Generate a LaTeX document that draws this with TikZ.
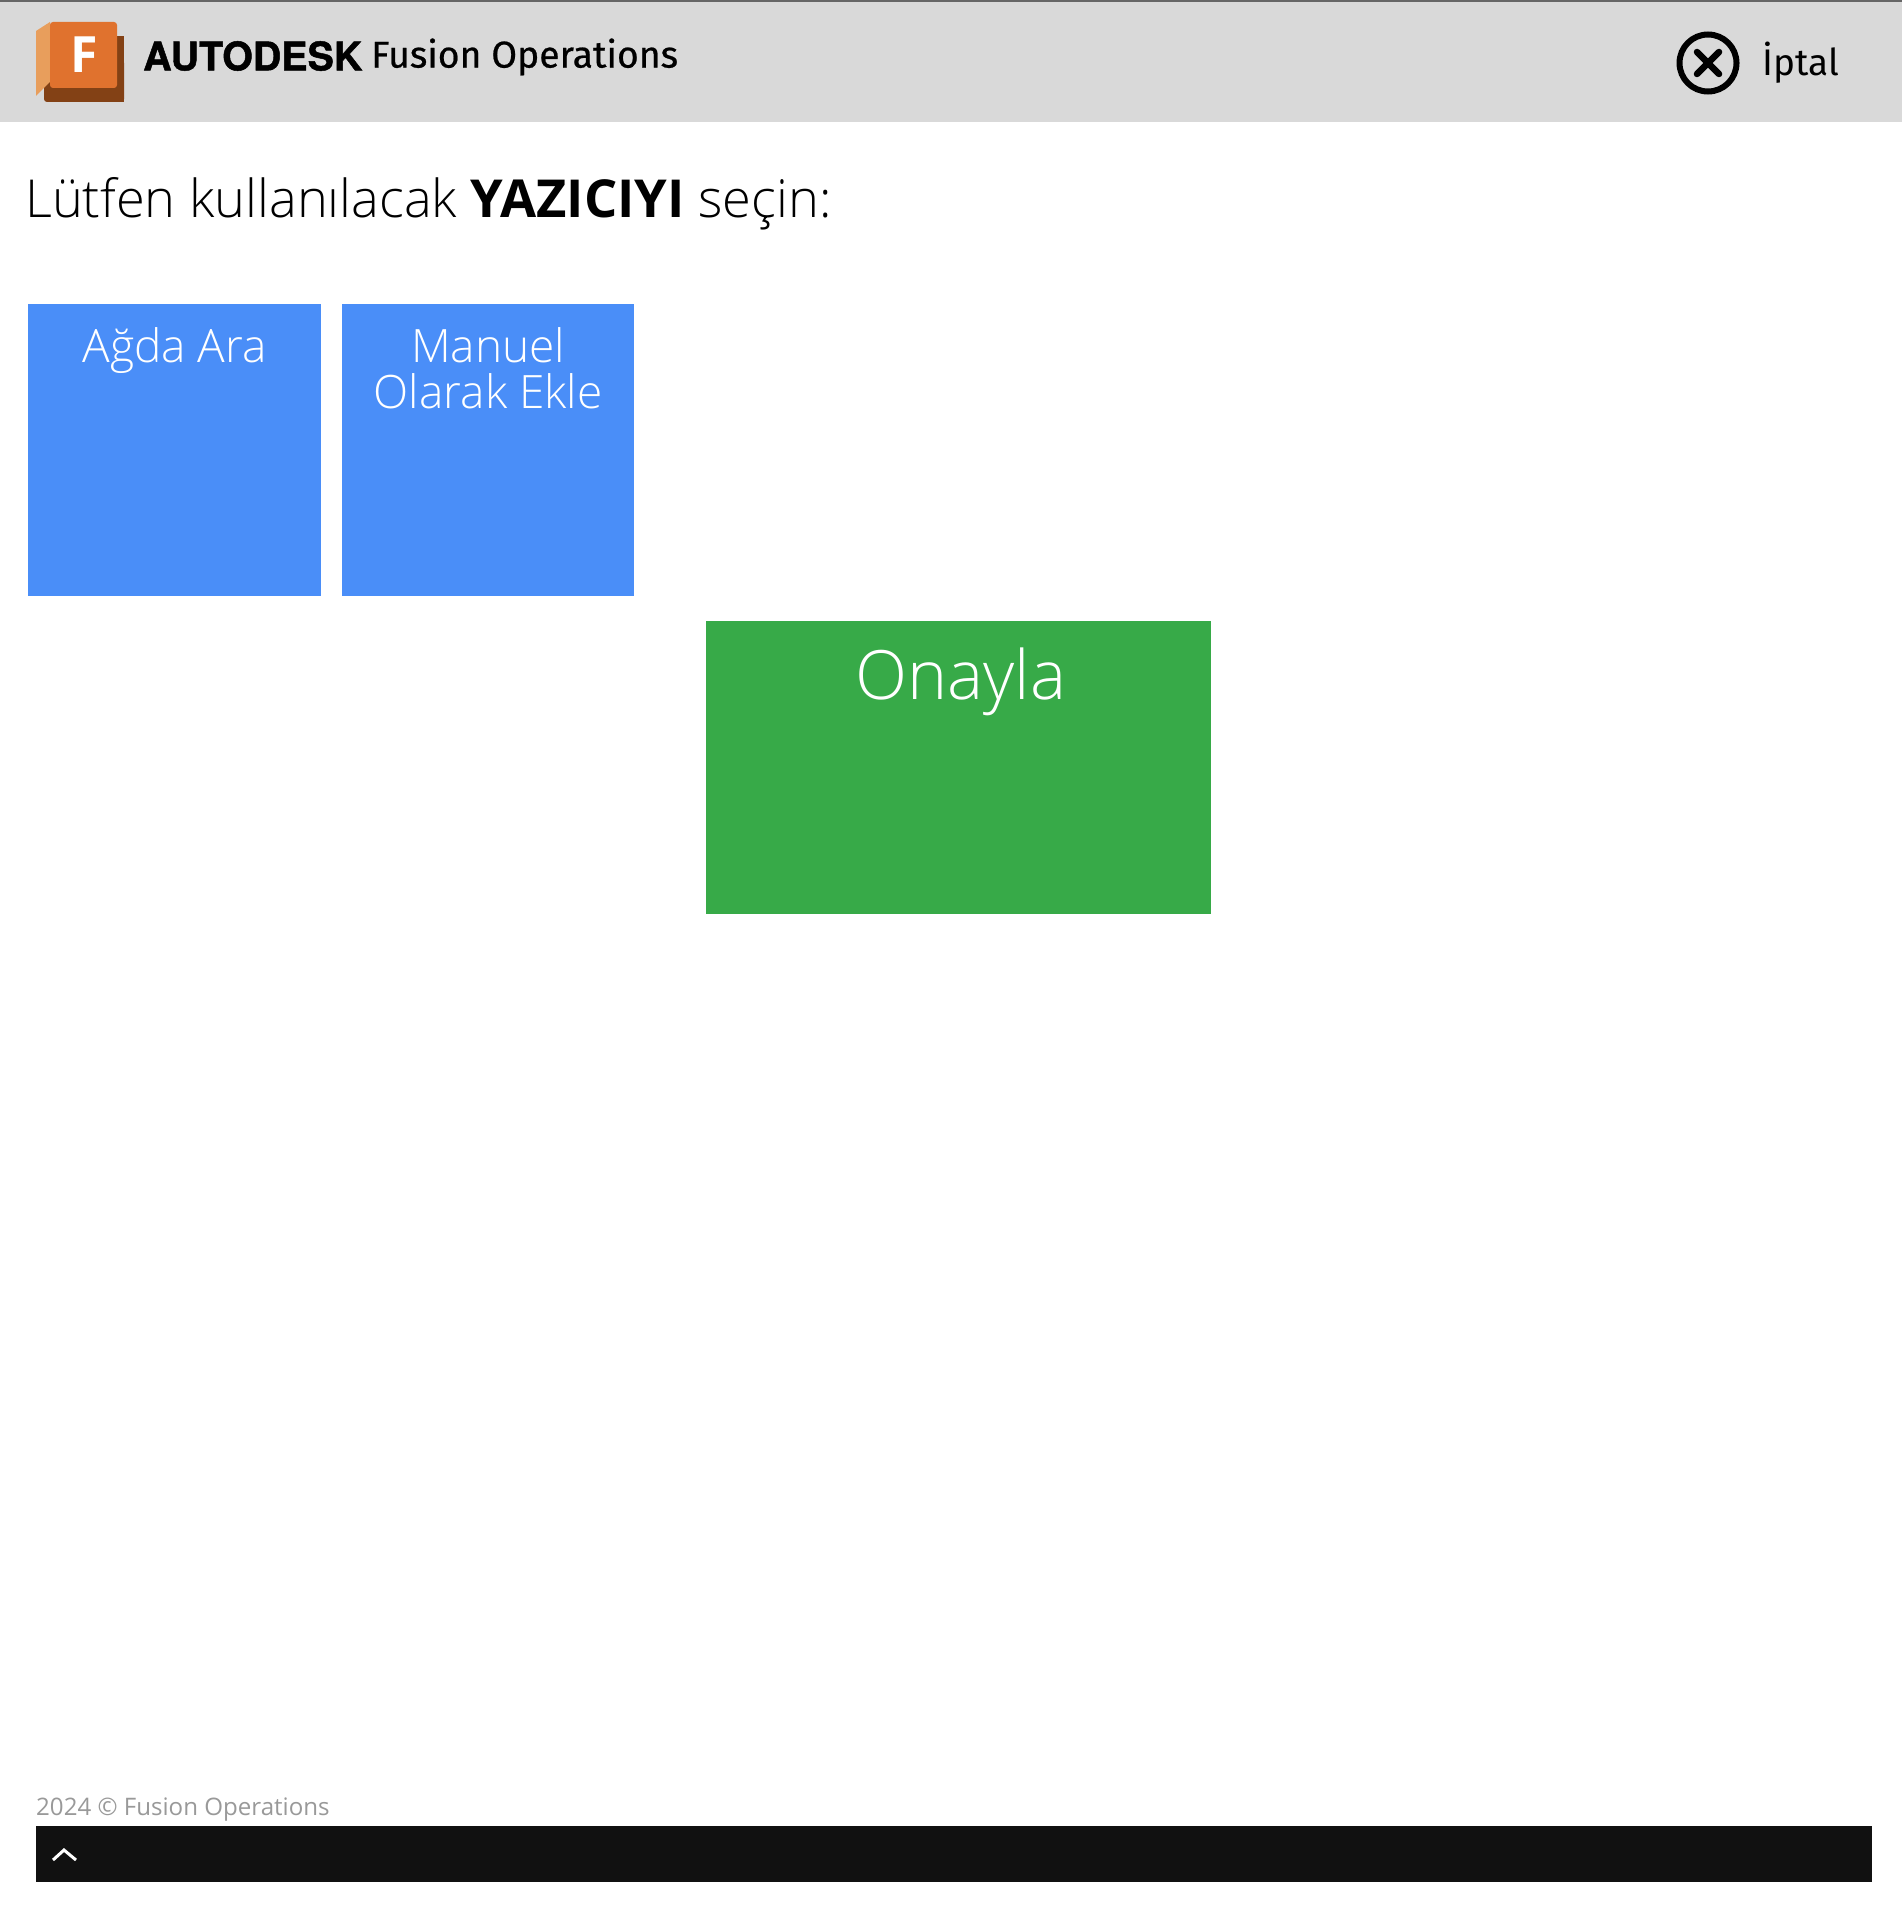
\documentclass[tikz,border=0pt]{standalone}
\usepackage{fontspec}
\usepackage{xcolor}
\usetikzlibrary{positioning, calc}
\setmainfont{Open Sans}
\newfontfamily\lightfont{Open Sans}[UprightFont=* Light,BoldFont=Open Sans Bold]
\newfontfamily\logofont{Fira Sans}[FakeBold=0.6]
\newfontfamily\cancelfont{Fira Sans}
\newfontfamily\brandfont{TeX Gyre Heros}[BoldFeatures={FakeBold=1.2}]
\definecolor{headgray}{HTML}{D9D9D9}
\definecolor{topline}{HTML}{666666}
\definecolor{tileblue}{HTML}{4A8EF8}
\definecolor{tilegreen}{HTML}{37AA48}
\definecolor{footgray}{HTML}{999999}
\definecolor{barblack}{HTML}{111111}
\definecolor{logoorange}{HTML}{E0722E}
\definecolor{logolight}{HTML}{E89E5C}
\definecolor{logobrown}{HTML}{834115}
\tikzset{
  tile/.style={anchor=north west, inner sep=0pt, minimum height=293pt, text=white},
  tilelabel/.style={anchor=north, inner sep=0pt, text=white, align=center, font=\lightfont\fontsize{46}{46}\selectfont}
}
\begin{document}
\begin{tikzpicture}[x=1pt, y=-1pt]
    \useasboundingbox[fill=white] (0,0) rectangle (1902,1916);
    % header
    \fill[headgray] (0,0) rectangle (1902,122);
    \fill[topline] (0,0) rectangle (1902,2);
    % logo
    \fill[logobrown, rounded corners=3pt] (44,60) rectangle (124,102);
    \fill[logobrown] (84,36) rectangle (124,102);
    \fill[logolight] (36,31) -- (50,22) -- (50,82) -- (36,96) -- cycle;
    \fill[logoorange, rounded corners=3pt] (50,22) -- (117,22) -- (117,88) -- (50,88) -- cycle;
    \node[anchor=center, inner sep=0pt, text=white] (logof) at (84,55)
      {\fontsize{50}{50}\selectfont\bfseries F};
    \node[anchor=west, inner sep=0pt] (brand) at (143,56)
      {\brandfont\fontsize{39.4}{39.4}\selectfont\bfseries AUTODESK};
    \node[anchor=west, inner sep=0pt] (product) at (371,57)
      {\logofont\fontsize{37.3}{37.3}\selectfont Fusion Operations};
    % cancel
    \node[circle, draw=black, line width=6pt, minimum size=57pt, inner sep=0pt] (cancel) at (1708,63) {};
    \draw[line width=6.5pt, line cap=round] ($(cancel)+(-11,-11)$) -- ($(cancel)+(11,11)$);
    \draw[line width=6.5pt, line cap=round] ($(cancel)+(11,-11)$) -- ($(cancel)+(-11,11)$);
    \node[anchor=west, inner sep=0pt] (canceltext) at (1762,63)
      {\cancelfont\fontsize{37}{37}\selectfont İptal};
    % title
    \node[anchor=west, inner sep=0pt] (title) at (25,204)
      {\lightfont\fontsize{52.35}{52.35}\selectfont Lütfen kullanılacak \textbf{YAZICIYI} seçin:};
    % tiles
    \node[tile, fill=tileblue, minimum width=293pt, minimum height=292pt] (search) at (28,304) {};
    \node[tile, fill=tileblue, minimum width=292pt, minimum height=292pt] (manual) at (342,304) {};
    \node[tile, fill=tilegreen, minimum width=505pt] (confirm) at (706,621) {};
    \node[tilelabel] (searchtext) at ($(search.north)+(0,23)$) {Ağda Ara};
    \node[tilelabel] (manualtext) at ($(manual.north)+(0,23)$) {Manuel\\Olarak Ekle};
    \node[tilelabel, font=\lightfont\fontsize{68}{68}\selectfont] (confirmtext) at ($(confirm.north)+(2,27)$) {Onayla};
    % footer
    \node[anchor=west, inner sep=0pt, text=footgray] (copyright) at (36,1810)
      {\fontsize{24.1}{24.1}\selectfont 2024 © Fusion Operations};
    \fill[barblack] (36,1826) rectangle (1872,1882);
    \draw[white, line width=3pt] (53,1860) -- (64,1850) -- (76,1860);
\end{tikzpicture}
\end{document}
